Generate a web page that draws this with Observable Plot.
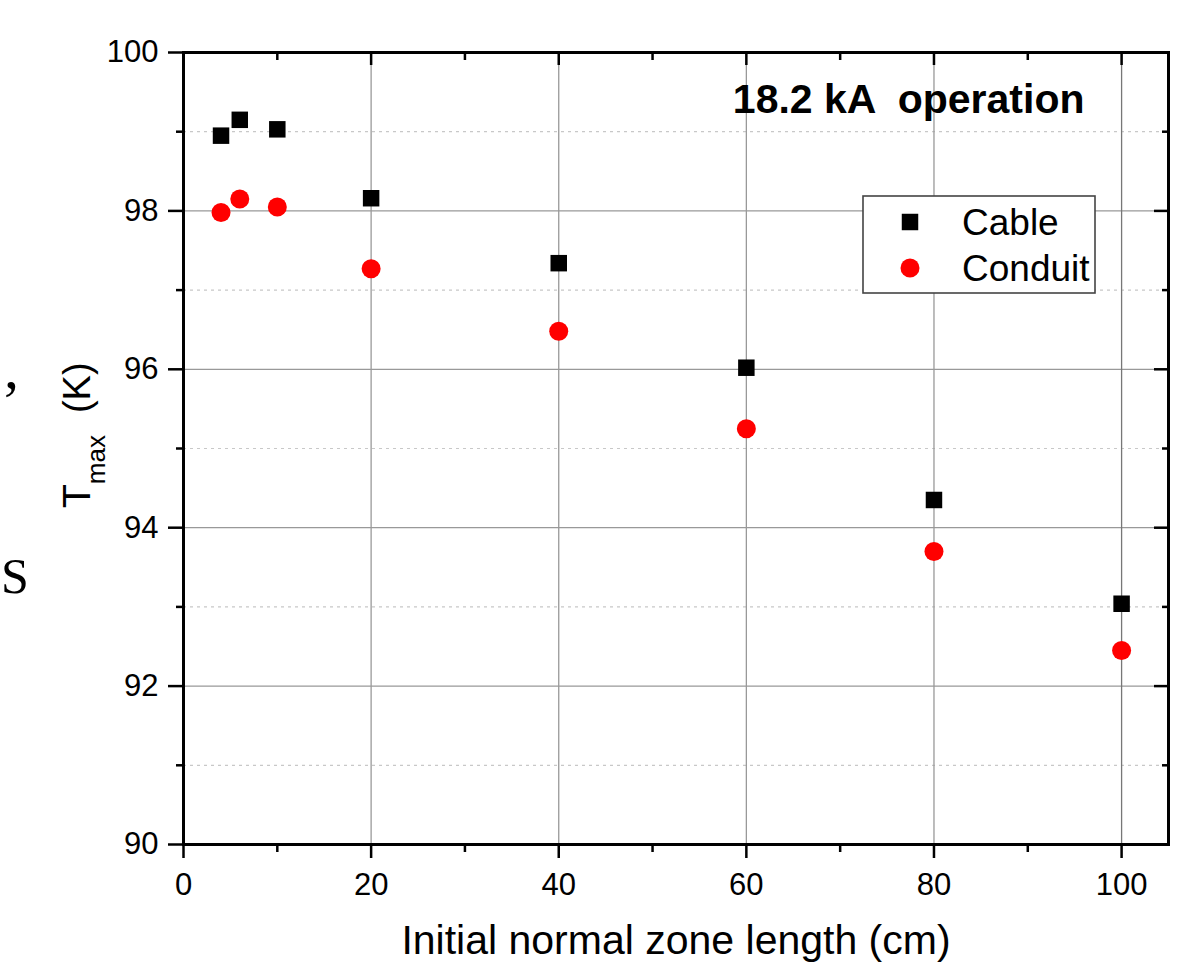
<!DOCTYPE html>
<html>
<head>
<meta charset="utf-8">
<script src="https://cdn.jsdelivr.net/npm/d3@7"></script>
<script src="https://cdn.jsdelivr.net/npm/@observablehq/plot@0.6"></script>
<style>
  html, body { margin: 0; padding: 0; background: #fff; }
  #chart svg { display: block; }
</style>
</head>
<body>
<div id="chart"></div>
<script>
// Data
const lengths = [4, 6, 10, 20, 40, 60, 80, 100];
const cableT = [98.95, 99.15, 99.03, 98.16, 97.34, 96.02, 94.35, 93.04];
const conduitT = [97.98, 98.15, 98.05, 97.27, 96.48, 95.25, 93.70, 92.45];
const seriesNames = ["Cable", "Conduit"];
const seriesColors = ["#000000", "#ff0000"];
const xMajorTicks = [0, 20, 40, 60, 80, 100];
const xMinorTicks = [10, 30, 50, 70, 90];
const yMajorTicks = [90, 92, 94, 96, 98, 100];
const yMinorTicks = [91, 93, 95, 97, 99];
const yGridMajor = [92, 94, 96, 98];
const xGrid = [20, 40, 60, 80];
const xGridLast = [100];
const titleText = "18.2 kA  operation";
const xLabel = "Initial normal zone length (cm)";

const rows = [];
lengths.forEach((x, i) => {
  rows.push({x, y: cableT[i], s: seriesNames[0]});
  rows.push({x, y: conduitT[i], s: seriesNames[1]});
});

const font = "'Liberation Sans', Arial, sans-serif";
const serif = "'Liberation Serif', 'Times New Roman', serif";
const blank = () => "";

const plot = Plot.plot({
  width: 1204,
  height: 965,
  marginLeft: 183,
  marginRight: 36,
  marginTop: 52,
  marginBottom: 121,
  style: {fontFamily: font, color: "#000", background: "#fff"},
  x: {domain: [0, 105]},
  y: {domain: [90, 100]},
  marks: [
    Plot.ruleY(yMinorTicks, {stroke: "#c8c8c8", strokeWidth: 1.2, strokeDasharray: "3,4"}),
    Plot.gridY(yGridMajor, {stroke: "#999", strokeOpacity: 1, strokeWidth: 1.3}),
    Plot.gridX(xGrid, {stroke: "#999", strokeOpacity: 1, strokeWidth: 1.3}),
    Plot.gridX(xGridLast, {stroke: "#777", strokeOpacity: 1, strokeWidth: 1.3}),
    // left axis
    Plot.axisY({ticks: yMajorTicks, tickSize: 15, tickPadding: 10, fontSize: 31, label: null, strokeWidth: 2.5, tickFormat: d => d}),
    Plot.axisY({ticks: yMinorTicks, tickSize: 7, tickFormat: blank, label: null, strokeWidth: 2.5}),
    // right axis (inward)
    Plot.axisY({anchor: "right", ticks: yMajorTicks, tickSize: -15, tickFormat: blank, label: null, strokeWidth: 2.5}),
    Plot.axisY({anchor: "right", ticks: yMinorTicks, tickSize: -7, tickFormat: blank, label: null, strokeWidth: 2.5}),
    // bottom axis
    Plot.axisX({ticks: xMajorTicks, tickSize: 14, tickPadding: 14, fontSize: 31, label: null, strokeWidth: 2.5, tickFormat: d => d}),
    Plot.axisX({ticks: xMinorTicks, tickSize: 8, tickFormat: blank, label: null, strokeWidth: 2.5}),
    // top axis (inward)
    Plot.axisX({anchor: "top", ticks: xMajorTicks, tickSize: -12, tickFormat: blank, label: null, strokeWidth: 2.5}),
    Plot.axisX({anchor: "top", ticks: xMinorTicks, tickSize: -7, tickFormat: blank, label: null, strokeWidth: 2.5}),
    Plot.frame({stroke: "#000", strokeWidth: 3}),
    Plot.dot(rows.filter(d => d.s === "Cable"), {x: "x", y: "y", symbol: "square", r: 9.3, fill: seriesColors[0], stroke: null}),
    Plot.dot(rows.filter(d => d.s === "Conduit"), {x: "x", y: "y", symbol: "circle", r: 9.5, fill: seriesColors[1], stroke: null}),
    Plot.text([titleText], {frameAnchor: "top-right", text: d => d, dx: -84, dy: 60, textAnchor: "end", lineAnchor: "bottom", fontSize: 41, fontWeight: "bold", fill: "#000"}),
    Plot.text([xLabel], {frameAnchor: "bottom", text: d => d, dy: 109, lineAnchor: "bottom", fontSize: 41, fill: "#000"})
  ]
});

const svg = d3.select(plot);

// Y axis label with subscript
const yl = svg.append("text")
  .attr("transform", "translate(90,508) rotate(-90)")
  .attr("text-anchor", "start")
  .attr("font-family", font)
  .attr("fill", "#000");
yl.append("tspan").attr("font-size", 39).text("T");
yl.append("tspan").attr("font-size", 26).attr("dy", 15).text("max");
yl.append("tspan").attr("font-size", 38).attr("dy", -15).attr("dx", 22).text("(K)");

// Legend
const lg = svg.append("g");
lg.append("rect").attr("x", 863).attr("y", 196).attr("width", 232).attr("height", 97)
  .attr("fill", "#fff").attr("stroke", "#444").attr("stroke-width", 1.6);
lg.append("path").attr("d", d3.symbol(d3.symbolSquare, Math.PI * 9.3 * 9.3)()).attr("transform", "translate(910,222)").attr("fill", seriesColors[0]);
lg.append("circle").attr("cx", 910).attr("cy", 268).attr("r", 9.5).attr("fill", seriesColors[1]);
seriesNames.forEach((name, i) => {
  lg.append("text").attr("x", 962).attr("y", [235, 281][i]).attr("text-anchor", "start")
    .attr("font-family", font).attr("font-size", 37).attr("fill", "#000").text(name);
});

// Text fragments at the left edge (from the surrounding page)
svg.append("text").attr("x", 4).attr("y", 388).attr("text-anchor", "start")
  .attr("font-family", serif).attr("font-style", "normal").attr("font-size", 60).attr("fill", "#000").text(",");
svg.append("text").attr("x", 1).attr("y", 593).attr("text-anchor", "start")
  .attr("font-family", serif).attr("font-style", "normal").attr("font-size", 50).attr("fill", "#000").text("S");

document.getElementById("chart").appendChild(plot);
</script>
</body>
</html>
